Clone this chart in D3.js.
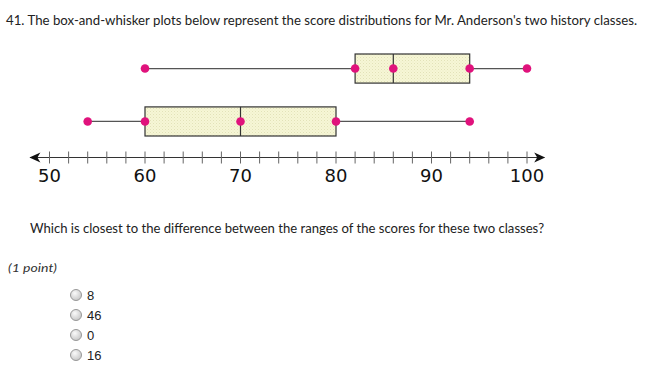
<!DOCTYPE html>
<html><head><meta charset="utf-8">
<script src="https://cdn.jsdelivr.net/npm/d3@7"></script>
<style>body{margin:0;background:#fff}svg{display:block}</style>
</head><body>
<script>
const classes = ["Class A", "Class B"];
const mins = [60, 54];
const q1s = [82, 60];
const medians = [86, 70];
const q3s = [94, 80];
const maxs = [100, 94];
const tickValues = [50, 60, 70, 80, 90, 100];
const choices = ["8", "46", "0", "16"];
const titleText = "41.  The box-and-whisker plots below represent the score distributions for Mr. Anderson's two history classes.";
const questionText = "Which is closest to the difference between the ranges of the scores for these two classes?";
const pointText = "(1 point)";

const W = 648, H = 374;
const svg = d3.select("body").append("svg").attr("width", W).attr("height", H);
const defs = svg.append("defs");
const pat = defs.append("pattern").attr("id","stip").attr("width",3).attr("height",3).attr("patternUnits","userSpaceOnUse");
pat.append("rect").attr("width",3).attr("height",3).attr("fill","#f6f6d6");
pat.append("rect").attr("x",0).attr("y",0).attr("width",1).attr("height",1).attr("fill","#e2e2b8");
pat.append("rect").attr("x",1.5).attr("y",1.5).attr("width",1).attr("height",1).attr("fill","#ebebc4");

const x = d3.scaleLinear().domain([50, 100]).range([49.5, 527]);
const y = d3.scaleBand().domain(classes).range([54, 136]).paddingInner(0.45);

// title
svg.append("text").attr("x", 6).attr("y", 25).attr("font-family","Lato").attr("font-size", 13)
  .attr("fill","#222").attr("textLength", 631).attr("lengthAdjust","spacingAndGlyphs").text(titleText);

// axis
const axisY = 157.5;
const ag = svg.append("g");
ag.append("line").attr("x1", x(48)).attr("x2", x(101.8)).attr("y1", axisY).attr("y2", axisY).attr("stroke","#333").attr("stroke-width",1.2);
ag.append("path").attr("d", `M${x(48)-1},${axisY} l11,-5 l-3,5 l3,5 z`).attr("fill","#111");
ag.append("path").attr("d", `M${x(101.8)+1},${axisY} l-11,-5 l3,5 l-3,5 z`).attr("fill","#111");
const minor = d3.range(50, 101, 2);
ag.selectAll("line.t").data(minor).join("line").attr("class","t")
  .attr("x1", d => x(d)).attr("x2", d => x(d)).attr("y1", axisY - 6).attr("y2", axisY + 6)
  .attr("stroke","#666").attr("stroke-width",1);
ag.selectAll("text").data(tickValues).join("text")
  .attr("x", d => x(d)).attr("y", 182).attr("text-anchor","middle")
  .attr("font-family","DejaVu Sans").attr("font-size", 18).attr("fill","#111").text(d => d);

// boxes
classes.forEach((c, i) => {
  const top = y(c), h = y.bandwidth(), cy = top + h / 2;
  const g = svg.append("g");
  g.append("line").attr("x1", x(mins[i])).attr("x2", x(q1s[i])).attr("y1", cy).attr("y2", cy).attr("stroke","#555").attr("stroke-width",1.3);
  g.append("line").attr("x1", x(q3s[i])).attr("x2", x(maxs[i])).attr("y1", cy).attr("y2", cy).attr("stroke","#555").attr("stroke-width",1.3);
  g.append("rect").attr("x", x(q1s[i])).attr("y", top).attr("width", x(q3s[i]) - x(q1s[i])).attr("height", h)
    .attr("fill","url(#stip)").attr("stroke","#333").attr("stroke-width",1.2);
  g.append("line").attr("x1", x(medians[i])).attr("x2", x(medians[i])).attr("y1", top).attr("y2", top + h).attr("stroke","#333").attr("stroke-width",1.2);
  g.selectAll("circle").data([mins[i], q1s[i], medians[i], q3s[i], maxs[i]]).join("circle")
    .attr("cx", d => x(d)).attr("cy", cy).attr("r", 4.3).attr("fill","#e0127c");
});

// question
svg.append("text").attr("x", 30).attr("y", 233).attr("font-family","Lato").attr("font-size", 13)
  .attr("fill","#222").attr("textLength", 514).attr("lengthAdjust","spacingAndGlyphs").text(questionText);
svg.append("text").attr("x", 8).attr("y", 272).attr("font-family","Lato").attr("font-style","italic").attr("font-size", 12)
  .attr("fill","#333").attr("textLength", 49).attr("lengthAdjust","spacingAndGlyphs").text(pointText);

const rg = defs.append("radialGradient").attr("id","rad").attr("cx","40%").attr("cy","35%").attr("r","65%");
rg.append("stop").attr("offset","0%").attr("stop-color","#fafafa");
rg.append("stop").attr("offset","100%").attr("stop-color","#c8c8c8");
const cg = svg.selectAll("g.choice").data(choices).join("g").attr("class","choice")
  .attr("transform", (d, i) => `translate(0, ${295 + i * 20})`);
cg.append("circle").attr("cx", 76).attr("cy", 0).attr("r", 5.5).attr("fill","url(#rad)").attr("stroke","#999").attr("stroke-width",1);
cg.append("text").attr("x", 87).attr("y", 5).attr("font-family","Liberation Sans Narrow, Liberation Sans").attr("font-size", 13)
  .attr("fill","#222").text(d => d);
</script>
</body></html>
